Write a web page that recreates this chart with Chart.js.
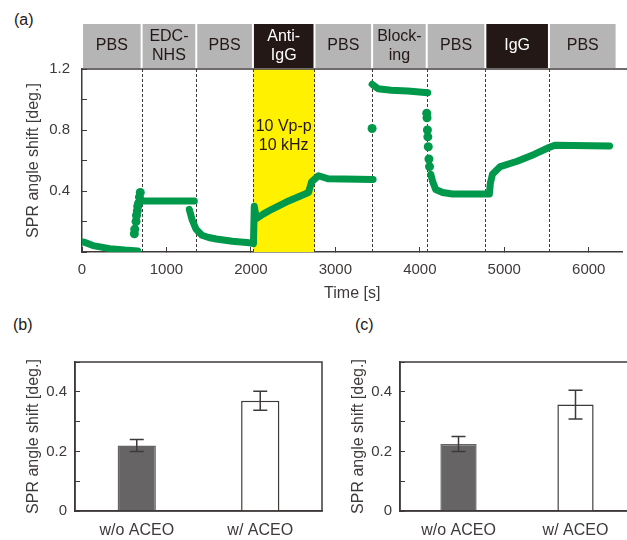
<!DOCTYPE html>
<html>
<head>
<meta charset="utf-8">
<script src="https://cdn.jsdelivr.net/npm/chart.js@4.4.1/dist/chart.umd.min.js"></script>
<style>
  html, body { margin: 0; padding: 0; background: #fff; overflow: hidden; width: 627px; height: 540px; }
  .wrap { position: absolute; }
  #wrapA { left: 0; top: 0; }
  #wrapB { left: 0; top: 340px; }
  #wrapC { left: 325px; top: 340px; }
  .tag { position: absolute; font: 16px "Liberation Sans", Arial, sans-serif; color: #231815; line-height: 18px; }
</style>
</head>
<body>
<div class="tag" style="left:14px;top:11px">(a)</div>
<div class="tag" style="left:13px;top:316px">(b)</div>
<div class="tag" style="left:355px;top:316px">(c)</div>
<div class="wrap" id="wrapA"><canvas id="chartA" width="627" height="305"></canvas></div>
<div class="wrap" id="wrapB"><canvas id="chartB" width="330" height="200"></canvas></div>
<div class="wrap" id="wrapC"><canvas id="chartC" width="315" height="200"></canvas></div>
<script>
// (a) sensorgram. null = break in the trace
const traceTime = [
  20, 130, 330, 505, 660, null,
  700, 1330, null,
  1270, 1305, 1350, 1420, 1500, 1590, 1780, 1980, 2030, 2040, 2065, 2150, 2247, 2447, 2682, 2718, 2800, 2918, 3447, null,
  3435, 3506, 3659, 3859, 4094, null,
  4130, 4153, 4188, 4270, 4388, 4824, 4835, 4860, 4953, 5153, 5353, 5529, 5600, 6247
];
const traceShift = [
  0.065, 0.042, 0.022, 0.013, 0.007, null,
  0.335, 0.335, null,
  0.28, 0.21, 0.15, 0.11, 0.095, 0.085, 0.07, 0.06, 0.055, 0.30, 0.22, 0.25, 0.28, 0.335, 0.39, 0.46, 0.50, 0.48, 0.475, null,
  1.10, 1.07, 1.06, 1.055, 1.045, null,
  0.51, 0.46, 0.41, 0.39, 0.38, 0.38, 0.45, 0.51, 0.56, 0.595, 0.64, 0.685, 0.70, 0.695
];
// scattered points during solution exchange
const jumpTime  = [620, 625, 640, 645, 655, 660, 670, 680, 690, 3435, 4082, 4085, 4090, 4095, 4100, 4108, 4115];
const jumpShift = [0.12, 0.15, 0.20, 0.24, 0.27, 0.30, 0.32, 0.36, 0.39, 0.81, 0.91, 0.88, 0.80, 0.755, 0.69, 0.61, 0.56];

const phaseNames  = ["PBS", "EDC-\nNHS", "PBS", "Anti-\nIgG", "PBS", "Block-\ning", "PBS", "IgG", "PBS"];
const phaseBounds = [0, 706, 1353, 2024, 2753, 3435, 4082, 4776, 5529, 6330];
const antibodyPhases = ["Anti-\nIgG", "IgG"];
const aceoWindow = [2024, 2753];
const aceoNote = ["10 Vp-p", "10 kHz"];
const timeTicks = [0, 1000, 2000, 3000, 4000, 5000, 6000];
const shiftLabels = [0.4, 0.8, 1.2];

// (b), (c) bar panels
const barCategories = ["w/o ACEO", "w/ ACEO"];
const shiftB = [0.22, 0.37];
const errB   = [0.02, 0.032];
const shiftC = [0.225, 0.357];
const errC   = [0.025, 0.048];
const barLabels = [0, 0.2, 0.4];

const INK = "#3e3a39";
const GREEN = "#00984a";
const YELLOW = "#fff100";
const BOX_GREY = "#b5b5b6";
const BOX_DARK = "#231815";
const FONT = "'Liberation Sans', Arial, sans-serif";

Chart.defaults.font.family = FONT;
Chart.defaults.font.size = 15;
Chart.defaults.color = INK;

const near = (list, v) => list.some((l) => Math.abs(l - v) < 1e-6);
const pts = (xs, ys) => xs.map((x, i) => ({ x, y: ys[i] }));

const phasePlugin = {
  id: "phases",
  beforeDatasetsDraw(chart) {
    const { ctx, chartArea: a, scales: { x } } = chart;
    ctx.save();
    const x0 = x.getPixelForValue(aceoWindow[0]);
    const x1 = x.getPixelForValue(aceoWindow[1]);
    ctx.fillStyle = YELLOW;
    ctx.fillRect(x0, a.top, x1 - x0, a.bottom - a.top);
    ctx.strokeStyle = INK;
    ctx.lineWidth = 1;
    ctx.setLineDash([3, 2]);
    phaseBounds.slice(1, -1).forEach((t) => {
      const px = Math.round(x.getPixelForValue(t)) + 0.5;
      ctx.beginPath();
      ctx.moveTo(px, a.top);
      ctx.lineTo(px, a.bottom);
      ctx.stroke();
    });
    ctx.restore();
  },
  afterDraw(chart) {
    const { ctx, chartArea: a, scales: { x }, width } = chart;
    ctx.save();
    // solution header
    const top = a.top - 45, h = 44;
    phaseNames.forEach((name, i) => {
      const l = x.getPixelForValue(phaseBounds[i]) + 1;
      const r = x.getPixelForValue(phaseBounds[i + 1]) - 1;
      const dark = antibodyPhases.includes(name);
      ctx.fillStyle = dark ? BOX_DARK : BOX_GREY;
      ctx.fillRect(l, top, r - l, h);
      ctx.fillStyle = dark ? "#fff" : BOX_DARK;
      ctx.font = "16px " + FONT;
      ctx.textAlign = "center";
      ctx.textBaseline = "middle";
      const lines = name.split("\n");
      lines.forEach((s, k) => {
        ctx.fillText(s, (l + r) / 2, top + h / 2 + (k - (lines.length - 1) / 2) * 19);
      });
    });
    // top frame line
    ctx.strokeStyle = INK;
    ctx.lineWidth = 1.5;
    ctx.beginPath();
    ctx.moveTo(a.left, a.top);
    ctx.lineTo(width, a.top);
    ctx.stroke();
    // ACEO note
    ctx.fillStyle = BOX_DARK;
    ctx.font = "16px " + FONT;
    ctx.textAlign = "center";
    ctx.textBaseline = "middle";
    const cx = (x.getPixelForValue(aceoWindow[0]) + x.getPixelForValue(aceoWindow[1])) / 2;
    aceoNote.forEach((s, k) => ctx.fillText(s, cx, a.top + 58 + k * 19));
    ctx.restore();
  },
};

new Chart(document.getElementById("chartA"), {
  type: "scatter",
  data: {
    datasets: [
      {
        data: pts(traceTime, traceShift),
        showLine: true,
        spanGaps: false,
        borderColor: GREEN,
        borderWidth: 7,
        borderCapStyle: "round",
        borderJoinStyle: "round",
        pointRadius: 0,
      },
      {
        data: pts(jumpTime, jumpShift),
        showLine: false,
        backgroundColor: GREEN,
        borderWidth: 0,
        pointRadius: 4.5,
      },
    ],
  },
  options: {
    responsive: false,
    animation: false,
    layout: { padding: { top: 69, right: 1, left: 0, bottom: 2 } },
    plugins: { legend: { display: false }, tooltip: { enabled: false } },
    scales: {
      x: {
        type: "linear",
        min: 0,
        max: 6400,
        afterBuildTicks: (s) => { s.ticks = timeTicks.map((v) => ({ value: v })); },
        ticks: { padding: 14, maxRotation: 0, callback: (v) => String(v) },
        grid: { drawOnChartArea: false, tickLength: -5, color: INK, lineWidth: 1 },
        border: { color: INK, width: 1.5 },
        title: { display: true, text: "Time [s]", font: { size: 16 }, padding: { top: 0, bottom: 0 } },
        afterFit: (s) => { s.height = 51; },
      },
      y: {
        min: 0,
        max: 1.2,
        ticks: { stepSize: 0.2, padding: 17, callback: (v) => (near(shiftLabels, v) ? v.toFixed(1) : "") },
        grid: { drawOnChartArea: false, tickLength: -5, color: INK, lineWidth: 1 },
        border: { color: INK, width: 1.5 },
        title: { display: true, text: "SPR angle shift [deg.]", font: { size: 16 }, padding: { top: 24, bottom: 0 } },
        afterFit: (s) => { s.width = 82; },
      },
    },
  },
  plugins: [phasePlugin],
});

const framePlugin = {
  id: "frame",
  afterDatasetsDraw(chart, args, opts) {
    const { ctx, chartArea: a, scales: { y } } = chart;
    const meta = chart.getDatasetMeta(0);
    ctx.save();
    ctx.strokeStyle = INK;
    ctx.lineWidth = 1.5;
    opts.errors.forEach((e, i) => {
      const v = chart.data.datasets[0].data[i];
      const px = meta.data[i].x;
      const y1 = y.getPixelForValue(v + e), y2 = y.getPixelForValue(v - e);
      ctx.beginPath();
      ctx.moveTo(px, y1); ctx.lineTo(px, y2);
      ctx.moveTo(px - 7, y1); ctx.lineTo(px + 7, y1);
      ctx.moveTo(px - 7, y2); ctx.lineTo(px + 7, y2);
      ctx.stroke();
    });
    ctx.strokeRect(a.left, a.top, a.right - a.left, a.bottom - a.top);
    ctx.restore();
  },
};

function barPanel(id, values, errors, rightPad) {
  new Chart(document.getElementById(id), {
    type: "bar",
    data: {
      labels: barCategories,
      datasets: [
        {
          data: values,
          backgroundColor: ["#666464", "#ffffff"],
          borderColor: ["#666464", INK],
          borderWidth: 1.5,
          categoryPercentage: 1,
          barPercentage: 0.31,
        },
      ],
    },
    options: {
      responsive: false,
      animation: false,
      layout: { padding: { top: 22, right: rightPad, left: 0, bottom: 0 } },
      plugins: { legend: { display: false }, tooltip: { enabled: false }, frame: { errors } },
      scales: {
        x: {
          grid: { display: false },
          border: { color: INK, width: 1.5 },
          ticks: { padding: 2, font: { size: 16 } },
          afterFit: (s) => { s.height = 29; },
        },
        y: {
          min: 0,
          max: 0.5,
          ticks: { stepSize: 0.1, padding: 13, callback: (v) => (near(barLabels, v) ? String(+v.toFixed(1)) : "") },
          grid: { drawOnChartArea: false, tickLength: -5, color: INK, lineWidth: 1 },
          border: { color: INK, width: 1.5 },
          title: { display: true, text: "SPR angle shift [deg.]", font: { size: 16 }, padding: { top: 24, bottom: 0 } },
          afterFit: (s) => { s.width = 75; },
        },
      },
    },
    plugins: [framePlugin],
  });
}

barPanel("chartB", shiftB, errB, 8);
barPanel("chartC", shiftC, errC, 6);
</script>
</body>
</html>
